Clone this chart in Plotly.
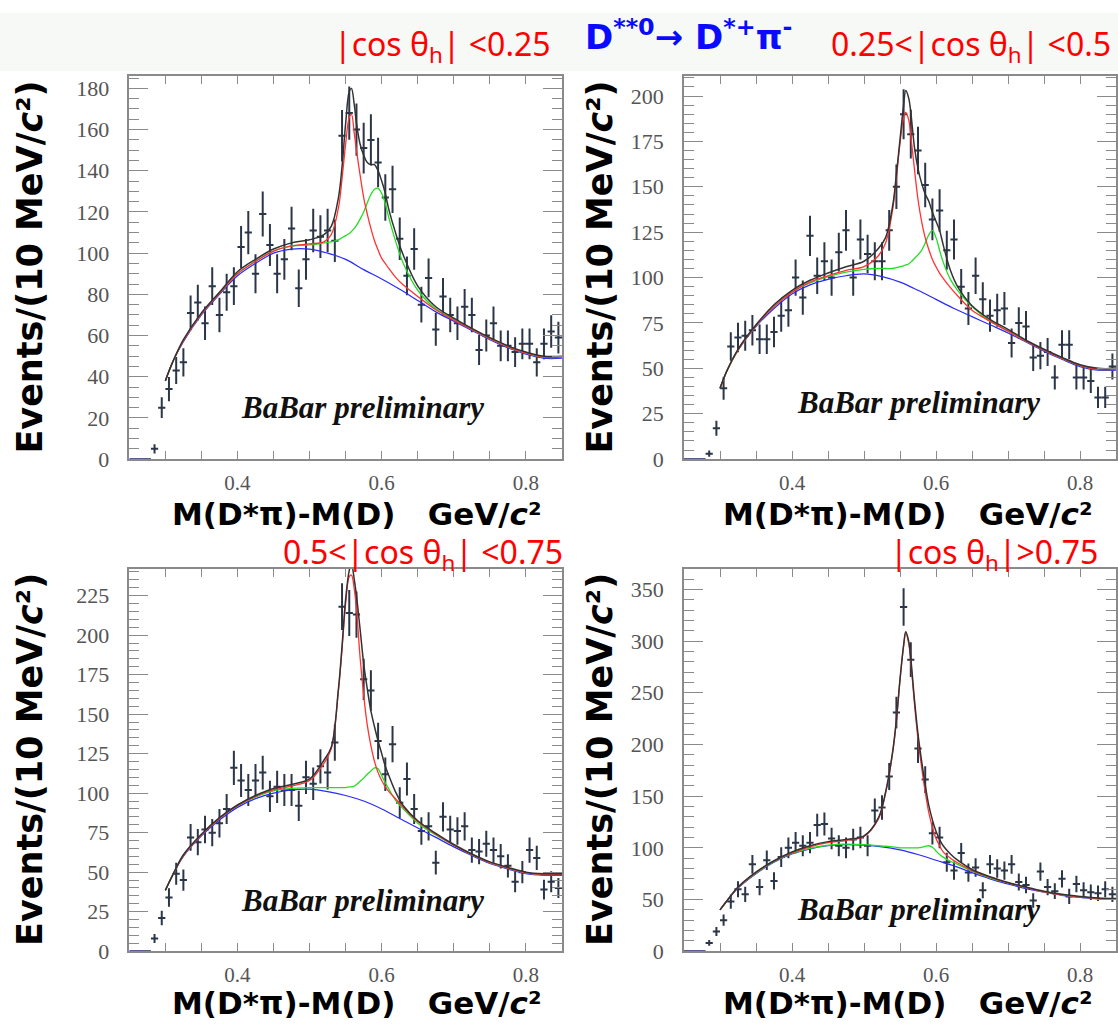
import plotly.graph_objects as go

# ---------------- data ----------------
BIN_X = [0.285, 0.295, 0.305, 0.315, 0.325, 0.335, 0.345, 0.355, 0.365, 0.375,
         0.385, 0.395, 0.405, 0.415, 0.425, 0.435, 0.445, 0.455, 0.465, 0.475,
         0.485, 0.495, 0.505, 0.515, 0.525, 0.535, 0.545, 0.555, 0.565, 0.575,
         0.585, 0.595, 0.605, 0.615, 0.625, 0.635, 0.645, 0.655, 0.665, 0.675,
         0.685, 0.695, 0.705, 0.715, 0.725, 0.735, 0.745, 0.755, 0.765, 0.775,
         0.785, 0.795, 0.805, 0.815, 0.825, 0.835, 0.845]

P1_Y = [5, 25, 34, 43, 47, 71, 76, 66, 84, 70, 81, 84, 103, 110, 90, 119, 104, 90, 97, 112,
        83, 97, 111, 108, 111, 106, 157, 168, 160, 151, 155, 144, 127, 131, 107, 89, 102, 75, 88, 63,
        79, 70, 66, 74, 70, 53, 60, 66, 55, 55, 52, 56, 56, 47, 56, 62, 59]
P2_Y = [3, 17, 39, 62, 67, 68, 71, 66, 66, 70, 79, 82, 100, 89, 123, 101, 109, 100, 114, 126,
        100, 121, 113, 109, 109, 126, 150, 190, 179, 170, 151, 132, 137, 115, 121, 95, 83, 101, 88, 79,
        82, 83, 64, 75, 73, 56, 57, 59, 45, 63, 63, 45, 45, 43, 34, 34, 51]
P3_Y = [8, 21, 34, 49, 45, 72, 69, 77, 75, 81, 90, 116, 108, 102, 108, 113, 98, 104, 102, 102,
        92, 110, 106, 117, 113, 132, 218, 214, 213, 172, 165, 133, 112, 131, 94, 109, 90, 76, 79, 56,
        85, 77, 76, 79, 64, 63, 68, 64, 60, 54, 44, 50, 64, 59, 39, 44, 40]
P4_Y = [8, 19, 30, 48, 60, 55, 84, 62, 88, 68, 91, 100, 105, 102, 105, 122, 123, 109, 102, 100,
        108, 110, 102, 136, 139, 169, 231, 333, 282, 196, 166, 114, 110, 86, 78, 95, 76, 81, 59, 84,
        80, 78, 84, 67, 64, 49, 77, 62, 58, 70, 53, 65, 59, 57, 56, 60, 55]

# fit curves
BG_X = [0.300, 0.310, 0.325, 0.350, 0.375, 0.400, 0.425, 0.450, 0.475, 0.500, 0.525, 0.550,
        0.575, 0.600, 0.625, 0.650, 0.675, 0.700, 0.725, 0.750, 0.775, 0.800, 0.825, 0.850]
FIT_X = [0.300, 0.310, 0.325, 0.350, 0.375, 0.400, 0.425, 0.450, 0.475, 0.500, 0.520, 0.530,
         0.540, 0.545, 0.550, 0.555, 0.558, 0.562, 0.565, 0.570, 0.575, 0.580, 0.585, 0.590,
         0.595, 0.600, 0.605, 0.610, 0.620, 0.630, 0.650, 0.675, 0.700, 0.725, 0.750, 0.775,
         0.800, 0.825, 0.850]
THRESH_X = [0.250, 0.280]
THRESH_Y = [0, 0]

P1_BG = [38, 47, 57, 70, 80, 89, 95, 100, 102, 102, 100, 97, 92, 87.5, 82.5, 77, 71.5, 67, 62.5, 58, 54, 51, 49, 49]
P1_RED = [38, 47, 57.5, 70.5, 80.5, 90, 96, 101, 103.5, 104.5, 105.5, 109, 122, 136, 153, 166, 167.5, 158, 150,
          138, 127, 119, 112, 106, 101.5, 97.5, 95, 92.5, 88, 84.5, 79, 72.5, 67.5, 63, 58.5, 54.5, 51.5, 49.5, 49.5]
P1_GREEN = [38, 47, 57.5, 70.5, 80.5, 90, 96, 101, 103.5, 104, 105, 105.5, 106.5, 107.5, 108.5, 109.5, 110.5, 112,
            113.5, 116.5, 120, 124.5, 128.5, 131, 131.5, 129, 124, 117, 105, 95, 82, 73, 68, 63, 58.5, 54.5, 51.5,
            49.5, 49.5]
P1_TOTAL = [38, 47, 58, 71, 81, 91, 97, 102, 105, 106.5, 109, 113, 127, 142, 163, 178.5, 180, 172, 163, 153,
            147.5, 144, 143, 143, 140, 135, 129, 121, 109, 99, 84, 74, 68.5, 63.5, 59, 55, 52, 50, 50]

P2_BG = [39, 49, 60, 73, 83, 91, 96, 99, 101, 102, 100.5, 97.5, 93, 88, 83, 78.5, 74, 69.5, 64.5, 59.5, 55, 51, 49, 49]
P2_RED = [39, 49, 60, 73.5, 84, 92, 97.5, 101, 104, 106, 112, 119, 138, 155, 174, 188, 191, 187, 178, 160, 143,
          131, 122, 115.5, 110, 106, 102.5, 99.5, 94.5, 90, 82, 76, 70.5, 65, 60, 55.5, 51.5, 49.5, 49.5]
P2_GREEN = [39, 49, 60, 73.5, 84, 92, 97, 100.5, 103, 104.5, 105, 105, 105, 105.5, 106, 106.5, 107, 107.5, 108.5,
            110.5, 112.5, 115, 119, 123.5, 126, 122, 115, 108.5, 99, 93, 84, 76, 70.5, 65, 60, 55.5, 51.5, 49.5,
            49.5]
P2_TOTAL = [39, 49, 60.5, 74, 85, 93, 98.5, 102.5, 106, 109, 116, 122, 140, 157, 176, 195, 203, 199, 191, 172,
            160, 152, 146, 142, 136, 131, 126, 118, 104, 95, 84.5, 77, 71.5, 65.5, 60.5, 56, 52, 50, 50]

P3_BG = [38.5, 48, 60, 73, 83, 91, 96.5, 100, 102, 102.5, 101, 98.5, 95, 90, 84, 78, 72, 66, 60.5, 55.5, 52, 49, 48, 48]
P3_RED = [38.5, 48, 60.5, 73.5, 84, 92, 98, 102, 104.5, 108, 119, 128, 165, 191, 220, 237, 238, 229, 217, 186,
          162, 143, 130, 120, 113, 108, 104, 101, 96, 91, 82, 74, 67, 61, 56, 52.5, 49.5, 48.5, 48.5]
P3_GREEN = [38.5, 48, 60.5, 73.5, 84, 92, 97.5, 101.5, 103, 103.5, 103.5, 103.5, 103.5, 103.5, 103.5, 104, 104,
            104.5, 105.5, 107.5, 109.5, 112, 114, 116, 115.5, 111, 106.5, 102.5, 95, 90, 81, 73.5, 67, 61, 56,
            52.5, 49.5, 48.5, 48.5]
P3_TOTAL = [38.5, 48, 61, 74, 84.5, 92.5, 98.5, 103, 105.5, 109, 121, 129, 166, 193, 223, 241, 245, 235, 225,
            204, 182, 166, 152, 142, 133, 125, 117, 111, 100, 92, 82.5, 74.5, 67.5, 61.5, 56.5, 53, 50, 49, 49]

P4_BG = [40, 49, 61, 75, 86, 94, 99, 102, 103, 102.5, 101, 98, 93.5, 88, 82.5, 76, 70, 65, 60.5, 57, 54, 52, 50.5, 50]
P4_RED = [40, 49, 61.5, 76, 87, 95, 101, 105, 107, 111, 128, 153, 193, 223, 262, 295, 308, 298, 280, 240, 205,
          178, 154, 134, 120, 109, 102, 96, 90, 85.5, 78, 71.5, 66, 61.5, 57.5, 54.5, 52.5, 51, 50.5]
P4_GREEN = [40, 49, 61.5, 75.5, 86.5, 94.5, 99.5, 102.5, 103.5, 103, 102, 101.5, 101, 100.5, 100, 100, 100, 100,
            100, 100, 100, 100.5, 101.5, 102, 100.5, 97, 93.5, 91, 87, 84, 77.5, 71, 66, 61.5, 57.5, 54.5, 52.5,
            51, 50.5]
P4_TOTAL = [40, 49, 62, 76.5, 87.5, 96, 102, 106, 108, 111.5, 129, 154, 194, 224, 263, 296, 309, 300, 283, 244,
            210, 184, 161, 141, 127, 116, 108, 102, 94, 88, 79, 72, 66.5, 62, 58, 55, 53, 51.5, 51]

LABELS = ["|cos θ<sub>h</sub>| <0.25", "0.25<|cos θ<sub>h</sub>| <0.5",
          "0.5<|cos θ<sub>h</sub>| <0.75", "|cos θ<sub>h</sub>|>0.75"]

# ---------------- layout helpers ----------------
W, H = 1118, 1033
def px(x):
    return x / W
def py(y):
    return 1 - y / H

panels = [
    dict(y=P1_Y, bg=P1_BG, red=P1_RED, green=P1_GREEN, tot=P1_TOTAL, ymax=186, dt=20, mdt=5,
         dx=[129.3, 562], dy=[465, 77], babar=(0.573, 25)),
    dict(y=P2_Y, bg=P2_BG, red=P2_RED, green=P2_GREEN, tot=P2_TOTAL, ymax=211, dt=25, mdt=5,
         dx=[684, 1116], dy=[465, 77], babar=(0.575, 31)),
    dict(y=P3_Y, bg=P3_BG, red=P3_RED, green=P3_GREEN, tot=P3_TOTAL, ymax=242, dt=25, mdt=5,
         dx=[129.3, 562], dy=[963.3, 576], babar=(0.573, 32)),
    dict(y=P4_Y, bg=P4_BG, red=P4_RED, green=P4_GREEN, tot=P4_TOTAL, ymax=370, dt=50, mdt=10,
         dx=[684, 1116], dy=[963.3, 576], babar=(0.575, 40)),
]

DC = "#2b3648"
AX = "#8a8a8a"
fig = go.Figure()
layout = {}
annots = []

for i, p in enumerate(panels):
    n = i + 1
    xa = "x" if n == 1 else f"x{n}"
    ya = "y" if n == 1 else f"y{n}"
    # data points
    fig.add_trace(go.Scatter(
        x=BIN_X, y=p["y"], xaxis=xa, yaxis=ya, mode="markers",
        marker=dict(size=2, color=DC),
        error_y=dict(type="sqrt", color=DC, thickness=2, width=0),
        error_x=dict(type="constant", value=0.005, color=DC, thickness=2, width=0),
        showlegend=False, hoverinfo="skip"))
    fig.add_trace(go.Scatter(x=THRESH_X, y=THRESH_Y, xaxis=xa, yaxis=ya, mode="lines",
                             line=dict(color="#1c2a6a", width=2), showlegend=False))
    fig.add_trace(go.Scatter(x=BG_X, y=p["bg"], xaxis=xa, yaxis=ya, mode="lines",
                             line=dict(color="#2a2aff", width=1.2, shape="spline"), showlegend=False))
    fig.add_trace(go.Scatter(x=FIT_X, y=p["green"], xaxis=xa, yaxis=ya, mode="lines",
                             line=dict(color="#22dd22", width=1.3, shape="spline"), showlegend=False))
    fig.add_trace(go.Scatter(x=FIT_X, y=p["red"], xaxis=xa, yaxis=ya, mode="lines",
                             line=dict(color="#ff3333", width=1.3, shape="spline"), showlegend=False))
    fig.add_trace(go.Scatter(x=FIT_X, y=p["tot"], xaxis=xa, yaxis=ya, mode="lines",
                             line=dict(color="#333333", width=1.5, shape="spline"), showlegend=False))

    xkey = "xaxis" if n == 1 else f"xaxis{n}"
    ykey = "yaxis" if n == 1 else f"yaxis{n}"
    layout[xkey] = dict(
        domain=[px(p["dx"][0]), px(p["dx"][1])], anchor=ya, range=[0.25, 0.85],
        showline=True, linecolor=AX, linewidth=1.5, mirror="allticks",
        ticks="inside", ticklen=8, tickwidth=1.2, tickcolor=AX,
        tick0=0, dtick=0.2, tickformat=".1f",
        minor=dict(dtick=0.05, ticks="inside", ticklen=8, tickwidth=1.2, tickcolor=AX),
        showgrid=False, zeroline=False, ticklabelstandoff=4,
        tickfont=dict(family="Liberation Serif", size=21, color="#555555"))
    layout[ykey] = dict(
        domain=[py(p["dy"][0]), py(p["dy"][1])], anchor=xa, range=[0, p["ymax"]],
        showline=True, linecolor=AX, linewidth=1.5, mirror="allticks",
        ticks="inside", ticklen=19, tickwidth=1.2, tickcolor=AX,
        tick0=0, dtick=p["dt"],
        minor=dict(dtick=p["mdt"], ticks="inside", ticklen=10, tickwidth=1.2, tickcolor=AX),
        showgrid=False, zeroline=False, ticklabelstandoff=14,
        tickfont=dict(family="Liberation Serif", size=22, color="#555555"))

    # BaBar preliminary
    annots.append(dict(x=p["babar"][0], y=p["babar"][1], xref=xa, yref=ya,
                       text="<b><i>BaBar preliminary</i></b>", showarrow=False,
                       font=dict(family="Liberation Serif", size=31, color="#111111")))
    # y title
    ycen = (p["dy"][0] + p["dy"][1]) / 2
    xt = 30 if n in (1, 3) else 600
    annots.append(dict(x=px(xt), y=py(ycen), xref="paper", yref="paper", textangle=-90,
                       text="<b>Events/(10 MeV/<i>c</i>²)</b>", showarrow=False,
                       xanchor="center", yanchor="middle",
                       font=dict(family="DejaVu Sans", size=35, color="#000000")))
    # x title
    xc = 357 if n in (1, 3) else 908
    yc = 521 if n in (1, 2) else 1016
    annots.append(dict(x=px(xc), y=py(yc), xref="paper", yref="paper",
                       text="<b>M(D*π)-M(D)\u00a0\u00a0\u00a0GeV/<i>c</i>²</b>",
                       showarrow=False, xanchor="center", yanchor="middle",
                       font=dict(family="DejaVu Sans", size=31, color="#000000")))

# red selection labels
lab_pos = [(553, 47), (1113, 47), (565, 561), (1100, 561)]
for lab, (lx, ly) in zip(LABELS, lab_pos):
    annots.append(dict(x=px(lx), y=py(ly), xref="paper", yref="paper", text=lab,
                       showarrow=False, xanchor="right", yanchor="middle",
                       font=dict(family="Noto Sans", size=32, color="#ff0000")))

# blue title
annots.append(dict(x=px(688), y=py(35), xref="paper", yref="paper",
                   text="<b>D<sup>**0</sup>→ D<sup>*+</sup>π<sup>-</sup></b>", showarrow=False,
                   xanchor="center", yanchor="middle",
                   font=dict(family="DejaVu Sans", size=34, color="#0a0aff")))

fig.update_layout(
    width=W, height=H, margin=dict(l=0, r=0, t=0, b=0),
    paper_bgcolor="#ffffff", plot_bgcolor="#ffffff",
    showlegend=False, annotations=annots,
    shapes=[dict(type="rect", xref="paper", yref="paper", x0=0, x1=1, y0=py(72), y1=py(13),
                 fillcolor="#f7f9f6", line=dict(width=0), layer="below")],
    **layout)

fig.write_html("out.html")
